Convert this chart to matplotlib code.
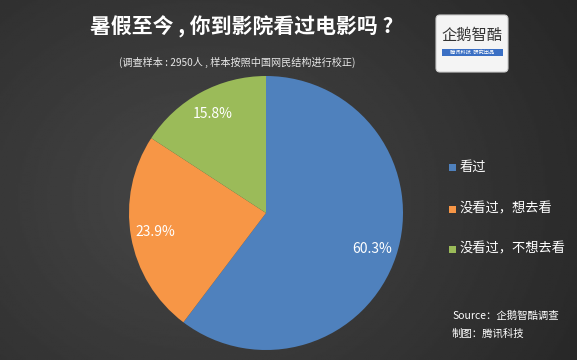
import numpy as np
import matplotlib.pyplot as plt
from matplotlib.patches import FancyBboxPatch, Rectangle

plt.rcParams['font.family'] = ['Noto Sans CJK SC', 'DejaVu Sans']

# data
labels = ['看过', '没看过，想去看', '没看过，不想去看']
values = [60.3, 23.9, 15.8]
colors = ['#4f81bd', '#f79646', '#9bbb59']

W, H = 577, 360
fig = plt.figure(figsize=(W / 100, H / 100), dpi=100)

# background gradient
bg = fig.add_axes([0, 0, 1, 1])
xx, yy = np.meshgrid(np.linspace(0, 1, 300), np.linspace(0, 1, 200))
d = np.sqrt(((xx - 0.35) * 1.2) ** 2 + ((yy - 0.55) * 0.9) ** 2)
shade = 0.28 - 0.14 * d
bg.imshow(shade, cmap='gray', vmin=0, vmax=1, aspect='auto', extent=[0, W, H, 0])
bg.set_xlim(0, W)
bg.set_ylim(H, 0)
bg.axis('off')

# title
bg.text(242, 27, '暑假至今 , 你到影院看过电影吗 ?', color='white', fontsize=15,
        fontweight='bold', ha='center', va='center')
bg.text(237, 62, '(调查样本 : 2950人 , 样本按照中国网民结构进行校正)', color='#e8e8e8',
        fontsize=7.3, ha='center', va='center')

# logo
bg.add_patch(FancyBboxPatch((436, 15), 72, 57, boxstyle='round,pad=0,rounding_size=4',
                            facecolor='#f4f4f4', edgecolor='#cccccc', lw=0.8))
bg.text(472, 35, '企鹅智酷', color='#333333', fontsize=11, ha='center', va='center')
bg.add_patch(Rectangle((442, 49), 61, 7, facecolor='#3a6fc4', edgecolor='none'))
bg.text(472, 52.5, '腾讯科技  研究出品', color='white', fontsize=3.8, ha='center',
        va='center')

# legend
for i, lab in enumerate(labels):
    y = [167, 209, 249][i]
    bg.add_patch(Rectangle((449, y - 3.5), 7, 7, facecolor=colors[i], edgecolor='none'))
    bg.text(460, y, lab, color='white', fontsize=9.5, ha='left', va='center')

# source
bg.text(452, 316, 'Source：企鹅智酷调查', color='white', fontsize=7.5, style='italic',
        ha='left', va='center')
bg.text(452, 334, '制图：腾讯科技', color='white', fontsize=7.5, style='italic',
        ha='left', va='center')

# pie
cx, cy, r = 266, 213, 137
ax = fig.add_axes([(cx - r) / W, (H - cy - r) / H, 2 * r / W, 2 * r / H])
wedges, _, autotexts = ax.pie(values, colors=colors, startangle=90, counterclock=False,
                              wedgeprops=dict(linewidth=0), autopct='%.1f%%',
                              pctdistance=0.82,
                              textprops=dict(color='white', fontsize=10))
ax.set_xlim(-1, 1)
ax.set_ylim(-1, 1)
ax.set_aspect('equal')
ax.axis('off')

fig.savefig('out.png', dpi=100)
